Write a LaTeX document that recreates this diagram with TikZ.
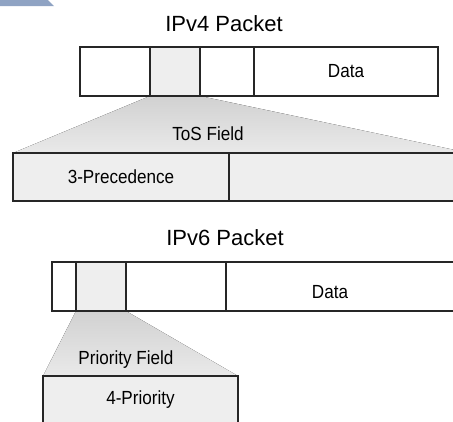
\documentclass[tikz,border=0pt]{standalone}
\usepackage{fontspec}
\setmainfont{Liberation Sans}
\newfontfamily\narrowfont[FakeStretch=0.9]{Liberation Sans}
\usepackage{xcolor}
\definecolor{pageblue}{HTML}{8FA3C3}
\usetikzlibrary{positioning, backgrounds}

\begin{document}
\begin{tikzpicture}[
  x=1pt, y=-1pt,
  title/.style={font=\fontsize{22}{24}\selectfont},
  fieldtext/.style={font=\narrowfont\fontsize{19}{21}\selectfont},
  cell/.style={draw=black!85, line width=1.3pt, anchor=north west,
               minimum height=49pt, inner sep=0pt, outer sep=0pt,
               fieldtext},
  graycell/.style={cell, fill=gray!13},
  fan/.style={top color=gray!36, bottom color=gray!17},
]
\clip (0,0) rectangle (453,421);
\fill[pageblue] (0,0) -- (48,0) -- (54,6) -- (0,6) -- cycle;

\node[title] (v4title) at (224,24) {IPv4 Packet};
\node[cell, minimum width=70pt] (a1) at (80,47) {};
\node[graycell, minimum width=50pt] (a2) at (150,47) {};
\node[cell, minimum width=54pt] (a3) at (200,47) {};
\node[cell, minimum width=184pt] (a4) at (254,47) {Data};

\node[fieldtext] (tosname) at (208,134) {ToS Field};
\node[graycell, minimum width=216pt, minimum height=48pt] (p1) at (13,153) {3-Precedence};
\node[graycell, minimum width=240pt, minimum height=48pt] (p2) at (229,153) {};

\node[title] (v6title) at (225,238) {IPv6 Packet};
\node[cell, minimum width=24pt] (b1) at (52,262) {};
\node[graycell, minimum width=50pt] (b2) at (76,262) {};
\node[cell, minimum width=100pt] (b3) at (126,262) {};
\node[cell, minimum width=250pt] (b4) at (226,262) {};
\node[fieldtext] (v6data) at (330,292) {Data};

\node[fieldtext] (prioname) at (126,360) {Priority Field};
\node[graycell, minimum width=195pt, minimum height=48pt] (q1) at (43,376) {4-Priority};

\begin{scope}[on background layer]
\fill[fan] (a2.south west) -- (a2.south east) -- (p2.north east) -- (p1.north west) -- cycle;
\fill[fan] (b2.south west) -- (b2.south east) -- (q1.north east) -- (q1.north west) -- cycle;
\end{scope}
\end{tikzpicture}
\end{document}
